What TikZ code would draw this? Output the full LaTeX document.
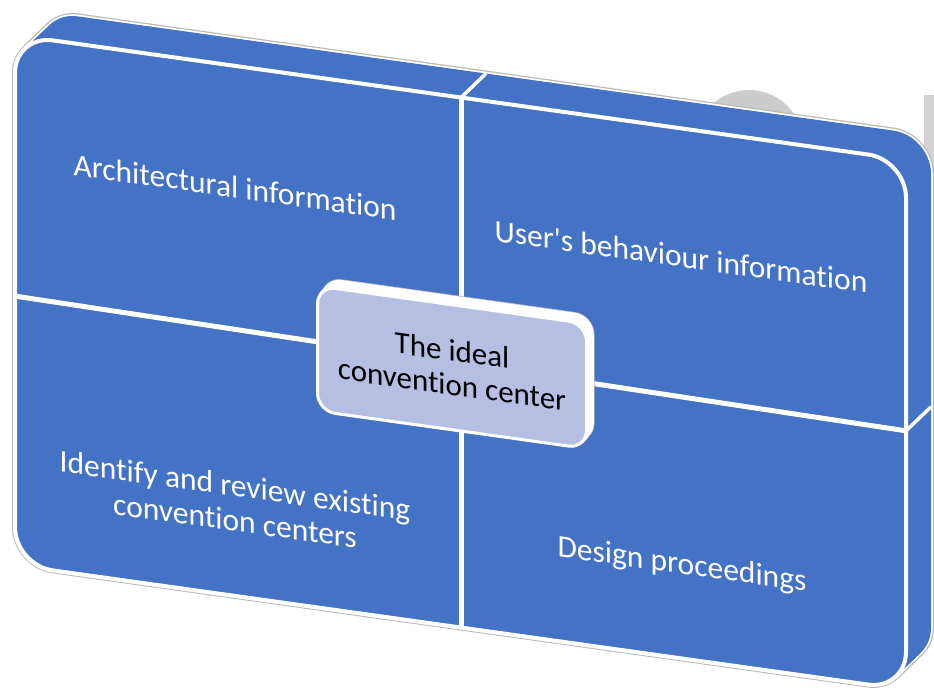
\documentclass[tikz,border=0pt]{standalone}
\usepackage{fontspec}
\setmainfont{Carlito}[Ligatures=NoCommon]
\definecolor{matblue}{RGB}{68,114,196}
\definecolor{hubfill}{RGB}{180,191,226}
\definecolor{rimgray}{RGB}{185,185,185}

\begin{document}
\begin{tikzpicture}[x=1pt,y=-1pt,
    cell/.style={text=white,font=\fontsize{31.5}{35}\selectfont,align=center,transform shape},
    hub/.style={text=black,font=\fontsize{31}{34}\selectfont,align=center,transform shape,
                fill=hubfill,draw=white,line width=3,rounded corners=18,
                minimum width=269,minimum height=125,inner sep=0}]
  \useasboundingbox (0,0) rectangle (934,692);
  \clip (0,0) rectangle (934,692);

  \fill[gray!40] (749,144) circle[radius=54pt];
  \fill[gray!35] (924,95) rectangle (934,175);

  \begin{scope}[cm={1,-0.14,0,1,(0,0)}]
    % slab, swept from the back face to the front face
    \foreach \t in {20,19,...,0}
             {
               \draw[rimgray,line width=6,rounded corners=38]
                  (15+1.25*\t,33-1.375*\t) rectangle (906+1.25*\t,563-1.375*\t);
             }
    \foreach \t in {20,19,...,0}
             {
               \draw[white,line width=3.5,rounded corners=38]
                  (15+1.25*\t,33-1.375*\t) rectangle (906+1.25*\t,563-1.375*\t);
             }
    \foreach \t in {20,19,...,0}
             {
               \fill[matblue,rounded corners=38]
                  (15+1.25*\t,33-1.375*\t) rectangle (906+1.25*\t,563-1.375*\t);
             }
    \draw[white,line width=4,rounded corners=38] (15,33) rectangle (906,563);

    \draw[white,line width=5] (461,33) -- (461,563);
    \draw[white,line width=5] (15,294) -- (906,304);
    \draw[white,line width=3.5] (461,33) -- (486,5.5);
    \draw[white,line width=3.5] (906,304) -- (931,276.5);

    \node[cell] (arch)   at (235,154) {Architectural information};
    \node[cell] (users)  at (681,161) {User\textquotesingle s behaviour information};
    \node[cell] (review) at (235,470) {Identify and review existing\\convention centers};
    \node[cell] (design) at (682,470) {Design proceedings};

    % hub box with its own thickness
    \foreach \t in {4,3,...,1}
             {
               \draw[rimgray,line width=4,rounded corners=18]
                  (317.5+1.5*\t,241.5-2*\t) rectangle (586.5+1.5*\t,366.5-2*\t);
             }
    \foreach \t in {4,3,...,1}
             {
               \draw[white,line width=2.5,rounded corners=18,fill=hubfill]
                  (317.5+1.5*\t,241.5-2*\t) rectangle (586.5+1.5*\t,366.5-2*\t);
             }
    \node[hub] (hub) at (452,304) {The ideal\\convention center};
  \end{scope}
\end{tikzpicture}
\end{document}
